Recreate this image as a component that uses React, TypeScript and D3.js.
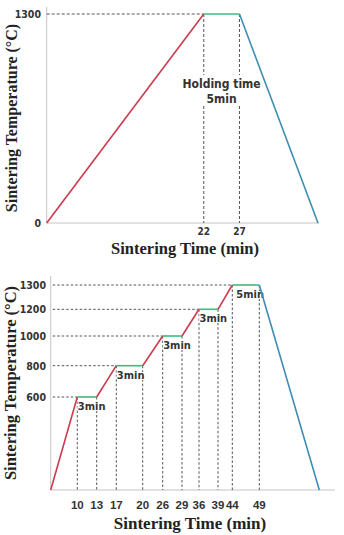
import * as d3 from "d3";

// single-step profile (upper panel)
const topTimes = [0, 22, 27, 38];
const topTemps = [0, 1300, 1300, 0];
const topTimeTicks = [22, 27];
const topTempTicks = [0, 1300];
const topHoldLabel = ["Holding time", "5min"];

// multi-step profile (lower panel)
const stepTimes = [0, 10, 13, 17, 20, 26, 29, 36, 39, 44, 49, 62];
const stepTemps = [0, 600, 600, 800, 800, 1000, 1000, 1200, 1200, 1300, 1300, 0];
const stepTimeTicks = [10, 13, 17, 20, 26, 29, 36, 39, 44, 49];
const stepTempTicks = [600, 800, 1000, 1200, 1300];
const holdLabels = ["3min", "3min", "3min", "3min", "5min"];

const RED = "#cc3b4c";
const GREEN = "#3dbb80";
const BLUE = "#3f8db3";
const AXIS = "#c4c4c4";
const DASH = "#555";
const serif = "'Liberation Serif', 'Times New Roman', serif";
const narrow = "'DejaVu Sans Condensed', 'DejaVu Sans', sans-serif";
const sans = "'Liberation Sans', Arial, sans-serif";

type Seg = { x1: number; y1: number; x2: number; y2: number; color: string };

function segments(times: number[], temps: number[], x: (v: number) => number, y: (v: number) => number): Seg[] {
  const out: Seg[] = [];
  for (let i = 1; i < times.length; i++) {
    const a = temps[i - 1];
    const b = temps[i];
    out.push({
      x1: x(times[i - 1]),
      y1: y(a),
      x2: x(times[i]),
      y2: y(b),
      color: a === b ? GREEN : b > a ? RED : BLUE,
    });
  }
  return out;
}

const condensed = { fontFamily: narrow, fontWeight: "bold" as const, fontStretch: "condensed", fill: "#333" };

function TopChart() {
  const x = d3.scaleLinear().domain([0, 38]).range([46.7, 318]);
  const y = d3.scaleLinear().domain([0, 1300]).range([223, 14]);
  const segs = segments(topTimes, topTemps, x, y);
  const holdStart = topTimes[1];
  const holdEnd = topTimes[2];
  const labelX = (x(holdStart) + x(holdEnd)) / 2;
  return (
    <g>
      <line x1={x(0)} x2={x(0)} y1={7} y2={y(0)} stroke={AXIS} />
      <line x1={x(0)} x2={319} y1={y(0)} y2={y(0)} stroke={AXIS} />
      <line x1={x(0)} x2={x(holdStart)} y1={y(1300)} y2={y(1300)} stroke={DASH} strokeDasharray="3,2" />
      {topTimeTicks.map((t) => (
        <g key={t}>
          <line x1={x(t)} x2={x(t)} y1={y(1300)} y2={75} stroke={DASH} strokeDasharray="3,2" />
          <line x1={x(t)} x2={x(t)} y1={106} y2={y(0)} stroke={DASH} strokeDasharray="3,2" />
          <text x={x(t)} y={y(0) + 12} textAnchor="middle" fontSize={10} {...condensed}>
            {t}
          </text>
        </g>
      ))}
      {topTempTicks.map((v) => (
        <text key={v} x={41} y={y(v) + 4} textAnchor="end" fontSize={10.5} {...condensed}>
          {v}
        </text>
      ))}
      {topHoldLabel.map((s, i) => (
        <text key={s} x={labelX} y={88 + i * 15} textAnchor="middle" fontSize={12} {...condensed}>
          {s}
        </text>
      ))}
      {segs.map((s, i) => (
        <line key={i} x1={s.x1} y1={s.y1} x2={s.x2} y2={s.y2} stroke={s.color} strokeWidth={1.6} />
      ))}
      <text
        transform={`translate(17,${(y(0) + 7) / 2 + 3}) rotate(-90)`}
        textAnchor="middle"
        fontFamily={serif}
        fontWeight="bold"
        fontSize={16}
        fill="#222"
      >
        Sintering Temperature (°C)
      </text>
      <text x={185} y={254} textAnchor="middle" fontFamily={serif} fontWeight="bold" fontSize={16.5} fill="#222">
        Sintering Time (min)
      </text>
    </g>
  );
}

function BottomChart() {
  // schematic axes: hand-spaced knots
  const x = d3
    .scaleLinear()
    .domain(stepTimes)
    .range([50.7, 77.3, 96.7, 116.3, 142.7, 162.7, 182, 199, 218, 232.3, 259.3, 319.3]);
  const y = d3.scaleLinear().domain([0, 600, 800, 1000, 1200, 1300]).range([490, 397, 365.7, 336, 309.3, 285]);
  const segs = segments(stepTimes, stepTemps, x, y);
  const holds: { t0: number; t1: number; temp: number }[] = [];
  for (let i = 1; i < stepTimes.length; i++) {
    if (stepTemps[i] === stepTemps[i - 1] && stepTemps[i] > 0) {
      holds.push({ t0: stepTimes[i - 1], t1: stepTimes[i], temp: stepTemps[i] });
    }
  }
  return (
    <g>
      <line x1={x(0)} x2={x(0)} y1={276} y2={y(0)} stroke={AXIS} />
      <line x1={x(0)} x2={335} y1={y(0)} y2={y(0)} stroke={AXIS} />
      {holds.map((h, i) => (
        <g key={i}>
          <line x1={x(0) + 2} x2={x(h.t0)} y1={y(h.temp)} y2={y(h.temp)} stroke={DASH} strokeDasharray="2.5,2" />
          <line x1={x(h.t0)} x2={x(h.t0)} y1={y(h.temp)} y2={y(0)} stroke={DASH} strokeDasharray="2.5,2" />
          <line x1={x(h.t1)} x2={x(h.t1)} y1={y(h.temp)} y2={y(0)} stroke={DASH} strokeDasharray="2.5,2" />
          <text
            x={x(h.t0) + (i === 4 ? 4 : 0.5)}
            y={y(h.temp) + 13}
            fontSize={11}
            {...condensed}
            stroke="#fff"
            strokeWidth={2}
            paintOrder="stroke"
          >
            {holdLabels[i]}
          </text>
        </g>
      ))}
      {stepTempTicks.map((v) => (
        <text key={v} x={46} y={y(v) + 4} textAnchor="end" fontSize={10.5} {...condensed}>
          {v}
        </text>
      ))}
      {stepTimeTicks.map((t) => (
        <text key={t} x={x(t)} y={509} textAnchor="middle" fontFamily={sans} fontWeight="bold" fontSize={11.5} fill="#333">
          {t}
        </text>
      ))}
      {segs.map((s, i) => (
        <line key={i} x1={s.x1} y1={s.y1} x2={s.x2} y2={s.y2} stroke={s.color} strokeWidth={1.6} />
      ))}
      <text
        transform={`translate(16,${383}) rotate(-90)`}
        textAnchor="middle"
        fontFamily={serif}
        fontWeight="bold"
        fontSize={16.5}
        fill="#222"
      >
        Sintering Temperature (°C)
      </text>
      <text x={190} y={529} textAnchor="middle" fontFamily={serif} fontWeight="bold" fontSize={17} fill="#222">
        Sintering Time (min)
      </text>
    </g>
  );
}

export default function App() {
  return (
    <svg
      width={344}
      height={535}
      style={{ position: "absolute", left: 0, top: 0, background: "#fff" }}
    >
      <TopChart />
      <BottomChart />
    </svg>
  );
}
